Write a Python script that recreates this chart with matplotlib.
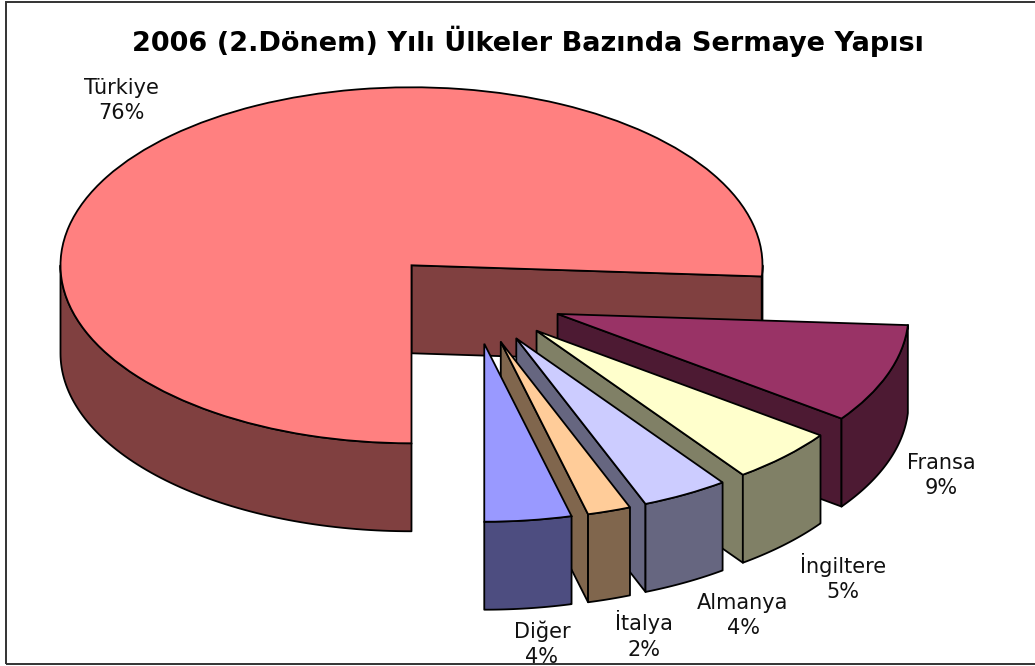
import numpy as np
import matplotlib
matplotlib.use('Agg')
import matplotlib.pyplot as plt
from matplotlib.colors import to_rgb
from matplotlib.patches import Polygon, Rectangle

countries = ['Türkiye', 'Fransa', 'İngiltere', 'Almanya', 'İtalya', 'Diğer']
shares = [76, 9, 5, 4, 2, 4]
slice_colors = ['#FF8080', '#993366', '#FFFFCC', '#CCCCFF', '#FFCC99', '#9999FF']
title = '2006 (2.Dönem) Yılı Ülkeler Bazında Sermaye Yapısı'

W, H = 1035, 666
# pie centre and radii in pixels
CX, CY = 473, 298.5
RX, RY = 351, 178
DEPTH = 88 / RY
EXPLODE = 0.256

# label anchors in pixels (centre of the two lines)
label_pos = [(121, 100.5), (941, 475.5), (843, 577.5), (743, 615.5), (644, 635), (542, 643.5)]


def shade(color):
    return tuple(c * 0.5 for c in to_rgb(color))


def add_face(ax, pts, color, z):
    ax.add_patch(Polygon(pts, closed=True, facecolor=color, edgecolor='black',
                         linewidth=1.3, joinstyle='round', zorder=z))


def cut_face(center, r, angle):
    x, y = center
    px = x + r * np.cos(np.radians(angle))
    py = y + r * np.sin(np.radians(angle))
    return [(x, y), (px, py), (px, py - DEPTH), (x, y - DEPTH)]


def outer_walls(center, r, t1, t2):
    # only the part of the rim on the lower half of the ellipse can be seen
    walls = []
    for k in range(-1, 2):
        a = max(t1, 180 + 360 * k)
        b = min(t2, 360 + 360 * k)
        if b > a:
            th = np.radians(np.linspace(a, b, 80))
            xs = center[0] + r * np.cos(th)
            ys = center[1] + r * np.sin(th)
            walls.append(list(zip(xs, ys)) + list(zip(xs[::-1], ys[::-1] - DEPTH)))
    return walls


fig = plt.figure(figsize=(W / 100, H / 100), dpi=100)
ax = fig.add_axes([0, 0, 1, 1])

wedges, _ = ax.pie(shares, explode=[EXPLODE] * len(shares), colors=slice_colors,
                   startangle=270, counterclock=False, radius=1,
                   wedgeprops={'edgecolor': 'black', 'linewidth': 1.3})
ax.set_aspect('auto')
ax.set_xlim(-CX / RX, (W - CX) / RX)
ax.set_ylim((CY - H) / RY, CY / RY)
ax.axis('off')

for i, w in enumerate(wedges):
    base = 10 + i * 3
    side = shade(slice_colors[i])
    w.set_zorder(base + 2)
    if np.cos(np.radians(w.theta1)) > 1e-6:
        add_face(ax, cut_face(w.center, w.r, w.theta1), side, base)
    if np.cos(np.radians(w.theta2)) < -1e-6:
        add_face(ax, cut_face(w.center, w.r, w.theta2), side, base)
    for pts in outer_walls(w.center, w.r, w.theta1, w.theta2):
        add_face(ax, pts, side, base + 1)

# chart frame, the right side falls off the picture
frame = Rectangle((5.5 / W, 1 - 664 / H), 1040 / W, 662.5 / H, fill=False,
                  edgecolor='#333333', linewidth=1.4, transform=fig.transFigure)
fig.add_artist(frame)

fig.text(528 / W, 1 - 41 / H, title, ha='center', va='center', fontsize=19.5,
         fontweight='bold', family='DejaVu Sans', color='black')

for name, val, (x, y) in zip(countries, shares, label_pos):
    t = fig.text(x / W, 1 - y / H, f'{name}\n{val}%', ha='center', va='center',
                 fontsize=15, family='DejaVu Sans', color='#111111', linespacing=1.32)
    # the last label runs into the frame and gets cut there
    t.set_clip_path(frame)
    t.set_clip_on(True)

fig.savefig('out.png', dpi=100, facecolor='white')
